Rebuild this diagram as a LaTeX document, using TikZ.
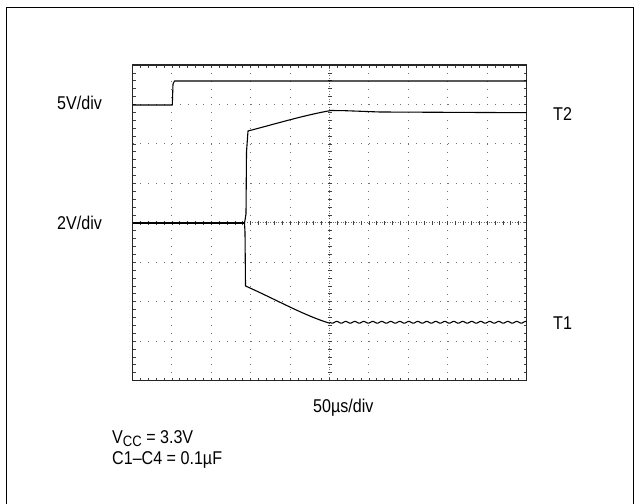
\documentclass[tikz,border=0pt]{standalone}
\usepackage{fontspec}
\setmainfont{Liberation Sans}[FakeStretch=0.87]
\usetikzlibrary{positioning}
\tikzset{
   scope frame/.style={line width=1.8bp, black},
   grid box/.style={line width=1.2bp, black!85},
   grid dots/.style={black!55, line width=0.9bp, dash pattern=on 0.9bp off 6.98bp},
   center dots/.style={black!55, line width=0.8bp, dash pattern=on 0.8bp off 1.8bp},
   minor tick/.style={black!75, line width=0.7bp},
   trace/.style={black, line width=1.1bp, line join=round},
   div label/.style={font=\fontsize{18.5bp}{22bp}\selectfont, inner sep=0pt, anchor=base west}
}
\newcommand{\gL}{132.5}
\newcommand{\gR}{526.5}
\newcommand{\gT}{65}
\newcommand{\gB}{380.5}
\begin{document}
\begin{tikzpicture}[x=1bp, y=-1bp]
        \useasboundingbox (0,0) rectangle (636,504);
        % Outer frame
        \draw[scope frame] (6.5,504) -- (6.5,7.5) -- (633.5,7.5) -- (633.5,504);

        % Graticule
        \foreach \i in {1,2,3,4,6,7,8,9}
            \draw[grid dots] ({\gL+\i*39.4},\gT) -- ({\gL+\i*39.4},\gB);
        \foreach \j in {1,2,3,5,6,7}
            \draw[grid dots] (\gL,{\gT+\j*39.44}) -- (\gR,{\gT+\j*39.44});
        \draw[center dots] ({\gL+5*39.4},\gT) -- ({\gL+5*39.4},\gB);
        \draw[center dots] (\gL,{\gT+4*39.44}) -- (\gR,{\gT+4*39.44});
        % Minor ticks on the edges and on the centre lines
        \foreach \k in {1,...,49} {
            \draw[minor tick] ({\gL+\k*7.88},\gT) -- +(0,3);
            \draw[minor tick] ({\gL+\k*7.88},\gB) -- +(0,-3);
            \draw[minor tick] ({\gL+\k*7.88},{\gT+4*39.44-2}) -- +(0,4);
        }
        \foreach \k in {1,...,39} {
            \draw[minor tick] (\gL,{\gT+\k*7.888}) -- +(3,0);
            \draw[minor tick] (\gR,{\gT+\k*7.888}) -- +(-3,0);
            \draw[minor tick] ({\gL+5*39.4-2},{\gT+\k*7.888}) -- +(4,0);
        }
        \draw[grid box] (\gL,\gT) rectangle (\gR,\gB);

        % 5V trace
        \draw[trace] (\gL,105) -- (172.3,105) -- (173,84) -- (174.5,81) -- (\gR,81);

        % T2 trace
        \draw[trace, line width=2.2bp] (\gL,223.3) -- (244.5,223.3);
        \draw[trace] (244.5,223.3) -- (246,214) -- (246.5,152) -- (248,131)
            .. controls (275,124) and (305,115) .. (331,110.5)
            -- (345,110.7) -- (380,112) -- (\gR,112.7);

        % T1 trace
        \draw[trace] (244.5,223.3) -- (245,232) -- (245.5,286)
            .. controls (275,299) and (305,316) .. (330,323.3);
        \draw[trace] plot[domain=330:\gR, samples=240, smooth]
            (\x, {322.3+0.9*sin((\x-330)*40)});

        % Labels
        \node[div label] (lbl5v) at (57,110) {5V/div};
        \node[div label] (lbl2v) at (57,230) {2V/div};
        \node[div label] (lblT2) at (553,120.5) {T2};
        \node[div label] (lblT1) at (553,329.5) {T1};
        \node[div label] (lblTime) at (313,412.3) {50µs/div};
        \node[div label] (lblVcc) at (112,443)
            {V\raisebox{-3bp}{\fontsize{15bp}{15bp}\selectfont CC} = 3.3V};
        \node[div label] (lblCap) at (112,464) {C1–C4 = 0.1µF};
\end{tikzpicture}
\end{document}
